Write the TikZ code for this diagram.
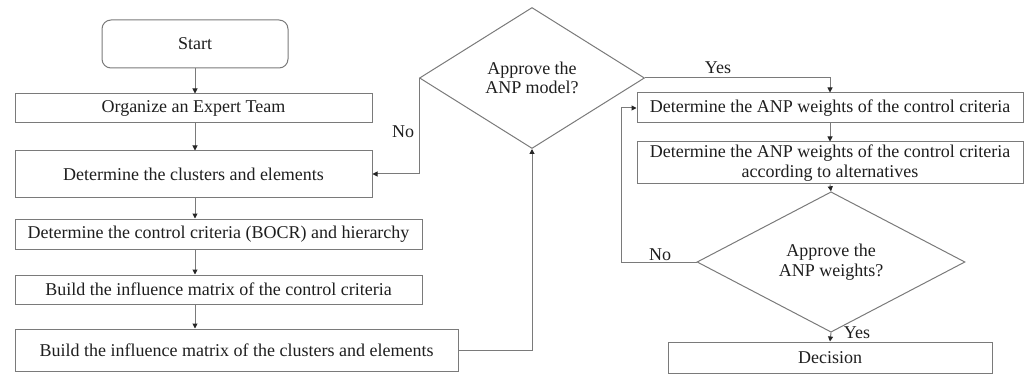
\documentclass[tikz,border=0pt]{standalone}
\usepackage{fontspec}
\setmainfont{Liberation Serif}
\usetikzlibrary{shapes.geometric,arrows.meta}
\definecolor{linec}{HTML}{7A7A7A}
\definecolor{textc}{HTML}{1E1E1E}
\begin{document}
\begin{tikzpicture}[x=1pt,y=-1pt,
  every node/.style={font=\fontsize{18}{19.5}\selectfont,text=textc},
  box/.style={draw=linec,line width=1pt,rectangle,inner sep=0pt,align=center},
  rbox/.style={box,rounded corners=9pt},
  dia/.style={draw=linec,line width=1pt,diamond,inner sep=0pt,align=center},
  conn/.style={draw=linec,line width=1pt,-{Triangle[length=5pt,width=5pt,color=black!85]}},
  lbl/.style={inner sep=0pt}]
\useasboundingbox (0,0) rectangle (1027,374);
\node[rbox,minimum width=186pt,minimum height=48pt] (start) at (195,44) {Start};
\node[box,minimum width=357pt,minimum height=29pt] (org) at (193.5,108.5) {Organize an Expert Team};
\node[box,minimum width=357pt,minimum height=46pt] (clus) at (193.5,174) {Determine the clusters and elements};
\node[box,minimum width=407pt,minimum height=30pt] (ctrl) at (218.5,234) {Determine the control criteria (BOCR) and hierarchy};
\node[box,minimum width=407pt,minimum height=29pt] (infl) at (218.5,289.5) {Build the influence matrix of the control criteria};
\node[box,minimum width=443pt,minimum height=42pt] (inflc) at (236.5,350) {Build the influence matrix of the clusters and elements};
\node[dia,minimum width=225pt,minimum height=141pt] (d1) at (532,78) {Approve the\\ANP model?};
\node[box,minimum width=386pt,minimum height=30pt] (anp1) at (830,108) {Determine the ANP weights of the control criteria};
\node[box,minimum width=386pt,minimum height=42pt] (anp2) at (830,163) {Determine the ANP weights of the control criteria\\according to alternatives};
\node[dia,minimum width=268pt,minimum height=120pt] (d2) at (831,262) {Approve the\\ANP weights?};
\node[box,minimum width=324pt,minimum height=31pt] (dec) at (830,357.5) {Decision};
\coordinate (c1) at (195,0);
\coordinate (c2) at (621,0);
\draw[conn] (start.south) -- (start.south |- org.north);
\draw[conn] (org.south -| c1) -- (clus.north -| c1);
\draw[conn] (clus.south -| c1) -- (ctrl.north -| c1);
\draw[conn] (ctrl.south -| c1) -- (infl.north -| c1);
\draw[conn] (infl.south -| c1) -- (inflc.north -| c1);
\draw[conn] (inflc.east) -| (d1.south);
\draw[conn] (d1.west) |- (clus.east);
\draw[conn] (d1.east) -| (anp1.north);
\draw[conn] (anp1.south) -- (anp2.north);
\draw[conn] (anp2.south) -- (d2.north);
\draw[conn] (d2.south) -- (dec.north);
\draw[conn] (d2.west) -- (d2.west -| c2) |- (anp1.west);
\node[lbl] (no1) at (403,132) {No};
\node[lbl] (yes1) at (718,68) {Yes};
\node[lbl] (no2) at (660,255) {No};
\node[lbl] (yes2) at (857,333) {Yes};
\end{tikzpicture}
\end{document}
